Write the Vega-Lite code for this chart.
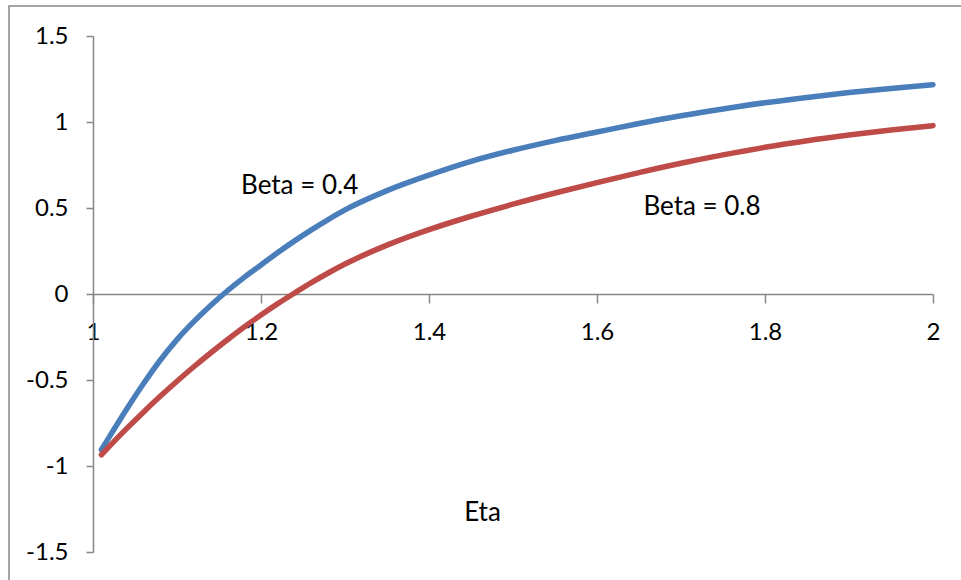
{
  "$schema": "https://vega.github.io/schema/vega-lite/v6.json",
  "width": 840,
  "height": 516,
  "autosize": {"type": "none"},
  "padding": {"left": 93, "top": 36, "right": 28, "bottom": 28},
  "background": "white",
  "config": {"view": {"stroke": null}, "font": "Lato"},
  "datasets": {
    "curves": [
      {"eta": 1.01, "value": -0.905, "beta": "0.4"},
      {"eta": 1.02, "value": -0.826, "beta": "0.4"},
      {"eta": 1.04, "value": -0.67, "beta": "0.4"},
      {"eta": 1.06, "value": -0.522, "beta": "0.4"},
      {"eta": 1.08, "value": -0.385, "beta": "0.4"},
      {"eta": 1.1, "value": -0.265, "beta": "0.4"},
      {"eta": 1.12, "value": -0.161, "beta": "0.4"},
      {"eta": 1.14, "value": -0.067, "beta": "0.4"},
      {"eta": 1.16, "value": 0.019, "beta": "0.4"},
      {"eta": 1.18, "value": 0.097, "beta": "0.4"},
      {"eta": 1.2, "value": 0.169, "beta": "0.4"},
      {"eta": 1.22, "value": 0.241, "beta": "0.4"},
      {"eta": 1.24, "value": 0.309, "beta": "0.4"},
      {"eta": 1.26, "value": 0.373, "beta": "0.4"},
      {"eta": 1.28, "value": 0.433, "beta": "0.4"},
      {"eta": 1.3, "value": 0.489, "beta": "0.4"},
      {"eta": 1.35, "value": 0.601, "beta": "0.4"},
      {"eta": 1.4, "value": 0.691, "beta": "0.4"},
      {"eta": 1.45, "value": 0.771, "beta": "0.4"},
      {"eta": 1.5, "value": 0.836, "beta": "0.4"},
      {"eta": 1.55, "value": 0.892, "beta": "0.4"},
      {"eta": 1.6, "value": 0.942, "beta": "0.4"},
      {"eta": 1.65, "value": 0.991, "beta": "0.4"},
      {"eta": 1.7, "value": 1.036, "beta": "0.4"},
      {"eta": 1.75, "value": 1.076, "beta": "0.4"},
      {"eta": 1.8, "value": 1.112, "beta": "0.4"},
      {"eta": 1.85, "value": 1.143, "beta": "0.4"},
      {"eta": 1.9, "value": 1.171, "beta": "0.4"},
      {"eta": 1.95, "value": 1.195, "beta": "0.4"},
      {"eta": 2.0, "value": 1.217, "beta": "0.4"},
      {"eta": 1.01, "value": -0.935, "beta": "0.8"},
      {"eta": 1.02, "value": -0.883, "beta": "0.8"},
      {"eta": 1.04, "value": -0.783, "beta": "0.8"},
      {"eta": 1.06, "value": -0.687, "beta": "0.8"},
      {"eta": 1.08, "value": -0.595, "beta": "0.8"},
      {"eta": 1.1, "value": -0.507, "beta": "0.8"},
      {"eta": 1.12, "value": -0.423, "beta": "0.8"},
      {"eta": 1.14, "value": -0.343, "beta": "0.8"},
      {"eta": 1.16, "value": -0.266, "beta": "0.8"},
      {"eta": 1.18, "value": -0.192, "beta": "0.8"},
      {"eta": 1.2, "value": -0.122, "beta": "0.8"},
      {"eta": 1.22, "value": -0.056, "beta": "0.8"},
      {"eta": 1.24, "value": 0.006, "beta": "0.8"},
      {"eta": 1.26, "value": 0.066, "beta": "0.8"},
      {"eta": 1.28, "value": 0.122, "beta": "0.8"},
      {"eta": 1.3, "value": 0.174, "beta": "0.8"},
      {"eta": 1.35, "value": 0.284, "beta": "0.8"},
      {"eta": 1.4, "value": 0.374, "beta": "0.8"},
      {"eta": 1.45, "value": 0.452, "beta": "0.8"},
      {"eta": 1.5, "value": 0.522, "beta": "0.8"},
      {"eta": 1.55, "value": 0.587, "beta": "0.8"},
      {"eta": 1.6, "value": 0.648, "beta": "0.8"},
      {"eta": 1.65, "value": 0.706, "beta": "0.8"},
      {"eta": 1.7, "value": 0.76, "beta": "0.8"},
      {"eta": 1.75, "value": 0.809, "beta": "0.8"},
      {"eta": 1.8, "value": 0.853, "beta": "0.8"},
      {"eta": 1.85, "value": 0.891, "beta": "0.8"},
      {"eta": 1.9, "value": 0.924, "beta": "0.8"},
      {"eta": 1.95, "value": 0.953, "beta": "0.8"},
      {"eta": 2.0, "value": 0.979, "beta": "0.8"}
    ],
    "labels": [
      {"eta": 1.246, "value": 0.63, "text": "Beta = 0.4"},
      {"eta": 1.725, "value": 0.505, "text": "Beta = 0.8"}
    ]
  },
  "layer": [
    {
      "data": {"values": [{}]},
      "mark": {"type": "rect", "filled": false, "stroke": "#868686", "strokeWidth": 1.5, "clip": false},
      "encoding": {
        "x": {"datum": 0.9, "type": "quantitative", "scale": {"domain": [1, 2], "nice": false, "zero": false}},
        "x2": {"datum": 2.3},
        "y": {"datum": 1.6744, "type": "quantitative", "scale": {"domain": [-1.5, 1.5], "nice": false, "zero": false}},
        "y2": {"datum": -1.9}
      }
    },
    {
      "data": {"name": "curves"},
      "mark": {"type": "line", "interpolate": "monotone", "strokeWidth": 5.5, "strokeCap": "round", "strokeJoin": "round"},
      "encoding": {
        "x": {
          "field": "eta", "type": "quantitative",
          "scale": {"domain": [1, 2], "nice": false, "zero": false},
          "axis": {
            "values": [1, 1.2, 1.4, 1.6, 1.8, 2],
            "offset": -258,
            "domainColor": "#868686", "domainWidth": 1.5,
            "tickColor": "#868686", "tickWidth": 1.5, "tickSize": 9,
            "grid": false,
            "labelFont": "Lato", "labelFontSize": 24, "labelColor": "#000000",
            "labelPadding": 17, "labelFlush": false, "labelOverlap": false,
            "labelExpr": "format(datum.value, '~g')",
            "title": "Eta", "titleFont": "Lato", "titleFontSize": 26, "titleFontWeight": "normal",
            "titleColor": "#000000", "titleX": 389, "titleY": 218, "titleBaseline": "middle", "titleAlign": "center"
          }
        },
        "y": {
          "field": "value", "type": "quantitative",
          "scale": {"domain": [-1.5, 1.5], "nice": false, "zero": false},
          "axis": {
            "values": [-1.5, -1, -0.5, 0, 0.5, 1, 1.5],
            "domainColor": "#868686", "domainWidth": 1.5,
            "tickColor": "#868686", "tickWidth": 1.5, "tickSize": 7,
            "grid": false,
            "labelFont": "Lato", "labelFontSize": 24, "labelColor": "#000000",
            "labelPadding": 18, "labelFlush": false, "labelOverlap": false,
            "labelExpr": "datum.value < 0 ? '-' + format(-datum.value, '~g') : format(datum.value, '~g')",
            "title": null
          }
        },
        "color": {
          "field": "beta", "type": "nominal",
          "scale": {"domain": ["0.4", "0.8"], "range": ["#4A7EBB", "#BE4B48"]},
          "legend": null
        },
        "order": {"field": "eta", "type": "quantitative"}
      }
    },
    {
      "data": {"name": "labels"},
      "mark": {"type": "text", "font": "Lato", "fontSize": 26, "color": "#000000", "align": "center", "baseline": "middle"},
      "encoding": {
        "x": {"field": "eta", "type": "quantitative"},
        "y": {"field": "value", "type": "quantitative"},
        "text": {"field": "text"}
      }
    }
  ]
}
